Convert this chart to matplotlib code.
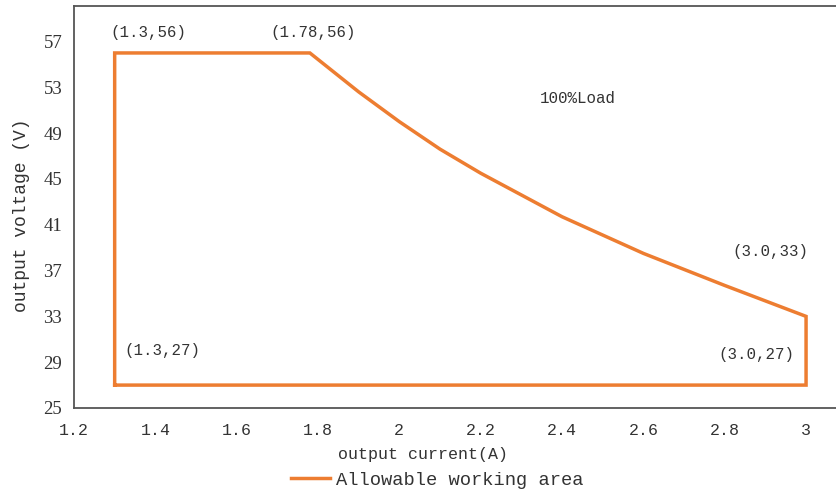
import matplotlib
matplotlib.use("Agg")
import matplotlib.pyplot as plt

# === DATA ===
current = [1.3, 1.3, 1.78, 1.9, 2.0, 2.1, 2.2, 2.4, 2.6, 2.8, 3.0, 3.0, 1.3]
voltage = [27, 56, 56, 52.6, 50.0, 47.6, 45.5, 41.7, 38.5, 35.7, 33, 27, 27]

x_ticks = [1.2, 1.4, 1.6, 1.8, 2.0, 2.2, 2.4, 2.6, 2.8, 3.0]
x_tick_labels = ["1.2", "1.4", "1.6", "1.8", "2", "2.2", "2.4", "2.6", "2.8", "3"]
y_ticks = [25, 29, 33, 37, 41, 45, 49, 53, 57]

point_labels = ["(1.3,56)", "(1.78,56)", "(3.0,33)", "(1.3,27)", "(3.0,27)", "100%Load"]
label_pos = [(1.289, 57.8), (1.682, 57.8), (2.82, 38.7), (1.323, 30.0), (2.784, 29.7), (2.346, 52.0)]

orange = "#ED7D31"
txt = "#333333"
mono = "Liberation Mono"
serif = "Liberation Serif"

# === FIGURE ===
fig = plt.figure(figsize=(8.37, 4.96), dpi=100)
ax = fig.add_axes([74 / 837, 88 / 496, 763 / 837, 402 / 496])

ax.plot(current, voltage, color=orange, lw=2.5, solid_joinstyle="miter",
        label="Allowable working area")

ax.set_xlim(1.2, 1.2 + 763 / 406.7)
ax.set_ylim(25, 60.1)
ax.set_xticks(x_ticks)
ax.set_xticklabels(x_tick_labels, fontfamily=mono, fontsize=12, color=txt)
ax.set_yticks(y_ticks)
ax.set_yticklabels([str(v) for v in y_ticks], fontfamily=serif, fontsize=13.5, color=txt)
ax.tick_params(axis="x", length=0, pad=11)
ax.tick_params(axis="y", length=0, pad=8.5)

for side in ["left", "top", "bottom"]:
    ax.spines[side].set_color("#555555")
    ax.spines[side].set_linewidth(1.3)
ax.spines["right"].set_visible(False)

for s, (px, py) in zip(point_labels, label_pos):
    ax.text(px, py, s, fontfamily=mono, fontsize=11.3, color=txt, va="center", ha="left")

ax.set_xlabel("output current(A)", fontfamily=mono, fontsize=12, color=txt)
ax.xaxis.set_label_coords((423 - 74) / 763, -(447 - 408) / 402)
ax.set_ylabel("output voltage (V)", fontfamily=mono, fontsize=13, color=txt)
ax.yaxis.set_label_coords(-(74 - 30) / 763, (408 - 215) / 402)

fig.legend(loc="center", bbox_to_anchor=(437 / 837, 1 - 480 / 496), frameon=False,
           prop={"family": mono, "size": 13.5}, handlelength=2.1, handletextpad=0.3,
           labelcolor=txt)

fig.savefig("out.png", dpi=100)
